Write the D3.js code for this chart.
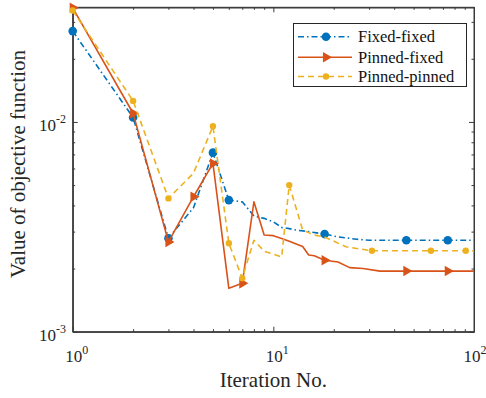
<!DOCTYPE html>
<html>
<head>
<meta charset="utf-8">
<script src="https://cdn.jsdelivr.net/npm/d3@7"></script>
<style>
  html, body { margin: 0; padding: 0; background: #fff; }
  svg text { font-family: "Liberation Serif", "Times New Roman", serif; }
</style>
</head>
<body>
<svg id="chart" width="486" height="398"></svg>
<script>
// ---- data ----
const seriesNames = ["Fixed-fixed", "Pinned-fixed", "Pinned-pinned"];

const fixedFixedIter = [1,2,3,4,5,6,7,8,9,10,11,12,13,15,18,21,26,30,46,74,100];
const fixedFixedVal  = [0.0271,0.0105,0.00279,0.0039,0.00714,0.00424,0.00416,0.00356,0.00347,0.00334,0.00314,0.0031,0.00305,0.0030,0.00292,0.00283,0.00276,0.00273,0.00273,0.00273,0.00273];
const fixedFixedMarkers = [1,2,3,5,6,18,46,74];

const pinnedFixedIter = [1,2,3,4,5,6,7,8,9,10,11,12,13,14,15,16,18,21,24,28,34,46,74,100];
const pinnedFixedVal  = [0.035,0.011,0.00268,0.0044,0.00634,0.00161,0.0017,0.00416,0.00289,0.00287,0.00278,0.0027,0.00262,0.00255,0.00232,0.0023,0.00219,0.00215,0.00202,0.0020,0.001945,0.001945,0.001945,0.001945];
const pinnedFixedMarkers = [1,2,3,4,5,7,18,46,74];

const pinnedPinnedIter = [1,2,3,4,5,6,7,8,9,10,11,12,14,16,18,23,31,61,91,100];
const pinnedPinnedVal  = [0.034,0.0126,0.00432,0.0057,0.00955,0.00264,0.0018,0.00273,0.00242,0.00234,0.00227,0.005,0.00305,0.00289,0.00283,0.00254,0.00243,0.00243,0.00243,0.00243];
const pinnedPinnedMarkers = [1,2,3,5,6,7,12,31,61,91];

const xMajorTicks = [1, 10, 100];
const xMajorExp = ["0", "1", "2"];
const xMinorTicks = [2,3,4,5,6,7,8,9,20,30,40,50,60,70,80,90];
const yMajorTicks = [0.001, 0.01];
const yMajorExp = ["-3", "-2"];
const yMinorTicks = [0.002,0.003,0.004,0.005,0.006,0.007,0.008,0.009,0.02,0.03];

const xLabel = "Iteration No.";
const yLabel = "Value of objective function";

// ---- layout ----
const FONT = "Liberation Serif";
const svg = d3.select("#chart");
const L = 72.7, R = 474, T = 7.3, B = 331.7;
const x = d3.scaleLog().domain([1, 100]).range([L, R]);
const y = d3.scaleLog().domain([0.001, 0.0352]).range([B, T]);
const axisColor = "#3a3a3a";

svg.append("rect").attr("width", 486).attr("height", 398).attr("fill", "#fff");

function styleAxis(g) {
  g.selectAll("path.domain").attr("stroke", axisColor).attr("stroke-width", 1);
  g.selectAll(".tick line").attr("stroke", axisColor).attr("stroke-width", 1);
  g.selectAll(".tick text").remove();
}
function addAxis(axisFn, scale, transform, ticks, size) {
  svg.append("g").attr("transform", transform)
    .call(axisFn(scale).tickValues(ticks).tickSizeInner(size).tickSizeOuter(0).tickFormat(""))
    .call(styleAxis);
}
addAxis(d3.axisBottom, x, `translate(0,${B})`, xMajorTicks, -5);
addAxis(d3.axisBottom, x, `translate(0,${B})`, xMinorTicks, -2.5);
addAxis(d3.axisTop, x, `translate(0,${T})`, xMajorTicks, -5);
addAxis(d3.axisTop, x, `translate(0,${T})`, xMinorTicks, -2.5);
addAxis(d3.axisLeft, y, `translate(${L},0)`, yMajorTicks, -5);
addAxis(d3.axisLeft, y, `translate(${L},0)`, yMinorTicks, -2.5);
addAxis(d3.axisRight, y, `translate(${R},0)`, yMajorTicks, -5);
addAxis(d3.axisRight, y, `translate(${R},0)`, yMinorTicks, -2.5);
svg.append("rect").attr("x", L).attr("y", T).attr("width", R - L).attr("height", B - T)
  .attr("fill", "none").attr("stroke", axisColor).attr("stroke-width", 1);

// tick labels
xMajorTicks.forEach((v, i) => {
  const cx = Math.min(x(v) + 4, 475);
  const t = svg.append("text").attr("x", cx).attr("y", 361.5)
    .attr("text-anchor", "middle").attr("font-size", 17).style("font-family", FONT).attr("fill", "#262626");
  t.append("tspan").text("10");
  t.append("tspan").attr("dy", -8).attr("font-size", 12).text(xMajorExp[i]);
});
yMajorTicks.forEach((v, i) => {
  const t = svg.append("text").attr("x", 66).attr("y", y(v) + 9.5)
    .attr("text-anchor", "end").attr("font-size", 17).style("font-family", FONT).attr("fill", "#262626");
  t.append("tspan").text("10");
  t.append("tspan").attr("dy", -8).attr("font-size", 12).text(yMajorExp[i]);
});

// axis labels
svg.append("text").attr("x", (L + R) / 2).attr("y", 387)
  .attr("text-anchor", "middle").attr("font-size", 21).style("font-family", FONT).attr("fill", "#262626").text(xLabel);
svg.append("text").attr("transform", `translate(25,${164}) rotate(-90)`)
  .attr("text-anchor", "middle").attr("font-size", 21).style("font-family", FONT).attr("fill", "#262626").text(yLabel);

// ---- series ----
const colors = ["#0072BD", "#D95319", "#EDB120"];
const dashes = ["6,3,1.5,3", null, "6,4"];
const series = [
  { iter: fixedFixedIter, val: fixedFixedVal, markers: fixedFixedMarkers, marker: "circle" },
  { iter: pinnedFixedIter, val: pinnedFixedVal, markers: pinnedFixedMarkers, marker: "tri" },
  { iter: pinnedPinnedIter, val: pinnedPinnedVal, markers: pinnedPinnedMarkers, marker: "dot" }
];

const line = d3.line().x(d => x(d[0])).y(d => y(d[1]));
const triSym = d3.symbol().type(d3.symbolTriangle).size(48);

function drawMarker(g, kind, cx, cy, color) {
  if (kind === "circle") {
    g.append("circle").attr("cx", cx).attr("cy", cy).attr("r", 4.3).attr("fill", color);
  } else if (kind === "dot") {
    g.append("circle").attr("cx", cx).attr("cy", cy).attr("r", 3.2).attr("fill", color);
  } else {
    g.append("path").attr("d", triSym()).attr("transform", `translate(${cx},${cy}) rotate(90)`)
      .attr("fill", color);
  }
}

series.forEach((s, i) => {
  const pts = s.iter.map((it, k) => [it, s.val[k]]);
  const g = svg.append("g");
  g.append("path").datum(pts).attr("d", line).attr("fill", "none")
    .attr("stroke", colors[i]).attr("stroke-width", 1.6)
    .attr("stroke-dasharray", dashes[i]).attr("stroke-linejoin", "round");
  s.markers.forEach(m => {
    const k = s.iter.indexOf(m);
    drawMarker(g, s.marker, x(s.iter[k]), y(s.val[k]), colors[i]);
  });
});

// ---- legend ----
const lg = svg.append("g");
lg.append("rect").attr("x", 293.5).attr("y", 23.5).attr("width", 173).attr("height", 63)
  .attr("fill", "#fff").attr("stroke", "#262626").attr("stroke-width", 1);
const rowY = [36.7, 57.2, 76.5];
seriesNames.forEach((name, i) => {
  lg.append("line").attr("x1", 298).attr("x2", 352).attr("y1", rowY[i]).attr("y2", rowY[i])
    .attr("stroke", colors[i]).attr("stroke-width", 1.6).attr("stroke-dasharray", dashes[i]);
  drawMarker(lg, series[i].marker, 326, rowY[i], colors[i]);
  lg.append("text").attr("x", 358).attr("y", rowY[i] + 5.5).attr("font-size", 16.5)
    .style("font-family", FONT).attr("fill", "#111").text(name);
});
</script>
</body>
</html>
